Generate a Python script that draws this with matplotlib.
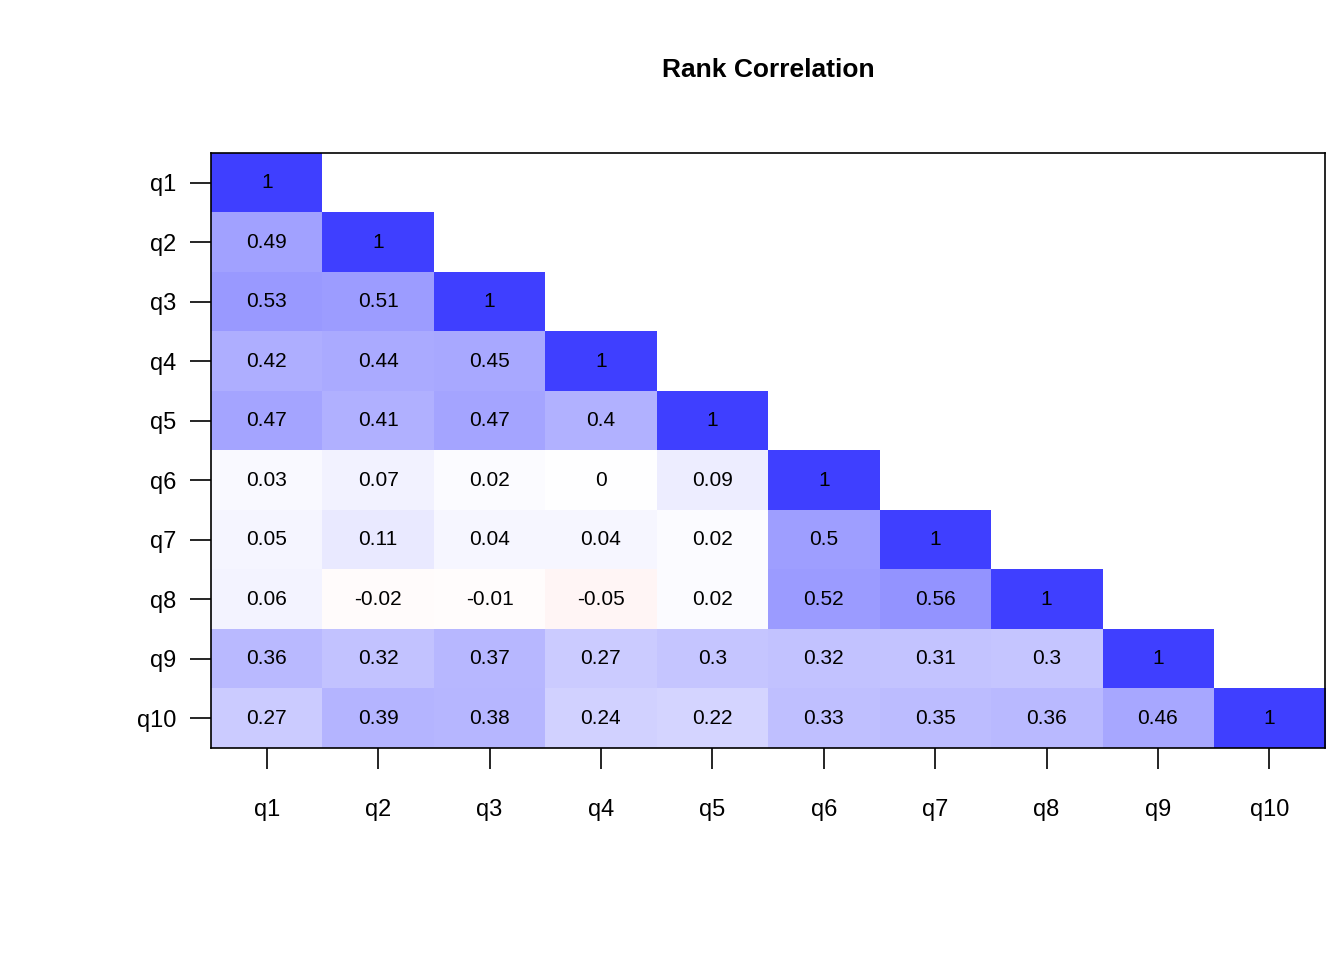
import numpy as np
import matplotlib
matplotlib.use("Agg")
import matplotlib.pyplot as plt
from matplotlib.colors import LinearSegmentedColormap

plt.rcParams['font.family'] = ['Liberation Sans', 'DejaVu Sans']

labels = ["q1", "q2", "q3", "q4", "q5", "q6", "q7", "q8", "q9", "q10"]
# lower triangle rows, row i has i+1 values
rows = [
    [1],
    [0.49, 1],
    [0.53, 0.51, 1],
    [0.42, 0.44, 0.45, 1],
    [0.47, 0.41, 0.47, 0.4, 1],
    [0.03, 0.07, 0.02, 0, 0.09, 1],
    [0.05, 0.11, 0.04, 0.04, 0.02, 0.5, 1],
    [0.06, -0.02, -0.01, -0.05, 0.02, 0.52, 0.56, 1],
    [0.36, 0.32, 0.37, 0.27, 0.3, 0.32, 0.31, 0.3, 1],
    [0.27, 0.39, 0.38, 0.24, 0.22, 0.33, 0.35, 0.36, 0.46, 1],
]

n = len(labels)
mat = np.full((n, n), np.nan)
for i, r in enumerate(rows):
    mat[i, :len(r)] = r

cmap = LinearSegmentedColormap.from_list(
    "rwb", [(1, 0.25, 0.25), (1, 1, 1), (0.25, 0.25, 1)])

fig = plt.figure(figsize=(13.44, 9.6), dpi=100)
ax = fig.add_axes([211 / 1344, 1 - 748 / 960, 1114 / 1344, 595 / 960])
ax.imshow(np.ma.masked_invalid(mat), cmap=cmap, vmin=-1, vmax=1,
          aspect="auto", interpolation="nearest",
          extent=(-0.5, n - 0.5, n - 0.5, -0.5))
for i, r in enumerate(rows):
    for j, v in enumerate(r):
        ax.text(j, i, f"{v:g}", ha="center", va="center", fontsize=15)

ax.set_xlim(-0.5, n - 0.5)
ax.set_ylim(n - 0.5, -0.5)
ax.set_xticks(range(n))
ax.set_xticklabels(labels, fontsize=17)
ax.set_yticks(range(n))
ax.set_yticklabels(labels, fontsize=17)
ax.tick_params(axis="x", length=15, width=1.2, pad=22)
ax.tick_params(axis="y", length=15, width=1.2, pad=10)
for s in ax.spines.values():
    s.set_linewidth(1.2)
ax.set_title("Rank Correlation", fontsize=19, fontweight="bold", pad=55)

fig.savefig("out.png", dpi=100)
